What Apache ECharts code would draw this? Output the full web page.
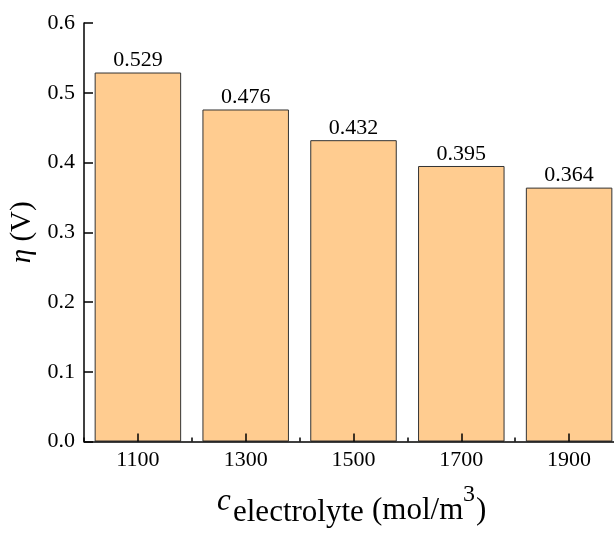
<!DOCTYPE html>
<html>
<head>
<meta charset="utf-8">
<script src="https://cdn.jsdelivr.net/npm/echarts@6/dist/echarts.min.js"></script>
<style>
  html, body { margin: 0; padding: 0; background: #fff; overflow: hidden; }
  #chart { width: 614px; height: 541px; }
</style>
</head>
<body>
<div id="chart"></div>
<script>
// Electrolyte concentration (mol/m^3) and overpotential (V)
const concentrations = ['1100', '1300', '1500', '1700', '1900'];
const overpotential = [0.529, 0.476, 0.432, 0.395, 0.364];
const yTicks = { min: 0, max: 0.6, interval: 0.1 };

const serif = '"Liberation Serif", "DejaVu Serif", serif';

const chart = echarts.init(document.getElementById('chart'), null, { renderer: 'canvas' });

// x-axis title pieces: italic c, subscript, unit, superscript
function titleText(text, x, y, size, italic) {
  return {
    type: 'text', x: x, y: y, z: 20,
    style: {
      text: text, fill: '#000', fontFamily: serif, fontSize: size,
      fontStyle: italic ? 'italic' : 'normal',
      align: 'left', verticalAlign: 'middle'
    }
  };
}

chart.setOption({
  animation: false,
  backgroundColor: '#fff',
  grid: {
    left: 84, top: 23, width: 539, height: 418.5,
    containLabel: false, outerBoundsMode: 'none'
  },
  xAxis: [
    {
      type: 'category',
      data: concentrations,
      position: 'bottom',
      z: 10,
      axisLine: { show: true, lineStyle: { color: '#000', width: 1.5 } },
      axisTick: { show: true, inside: true, alignWithLabel: true, length: 8, lineStyle: { color: '#000', width: 1.5 } },
      axisLabel: { color: '#000', fontFamily: serif, fontSize: 22, margin: 8 }
    },
    {
      // short ticks on the category boundaries
      type: 'category',
      data: concentrations,
      position: 'bottom',
      z: 10,
      axisLine: { show: false },
      axisTick: { show: true, inside: true, alignWithLabel: false, length: 4, lineStyle: { color: '#000', width: 1.5 } },
      axisLabel: { show: false },
      splitLine: { show: false }
    }
  ],
  yAxis: {
    type: 'value',
    min: yTicks.min,
    max: yTicks.max,
    interval: yTicks.interval,
    z: 10,
    axisLine: { show: true, lineStyle: { color: '#000', width: 1.5 } },
    axisTick: { show: true, inside: true, length: 9, lineStyle: { color: '#000', width: 1.5 } },
    splitLine: { show: false },
    axisLabel: {
      color: '#000', fontFamily: serif, fontSize: 22, margin: 9,
      formatter: v => v.toFixed(1)
    },
    name: '{e|η}{n| (V)}',
    nameLocation: 'middle',
    nameGap: 31,
    nameTextStyle: {
      color: '#000',
      fontFamily: serif,
      rich: {
        e: { fontFamily: serif, fontStyle: 'italic', fontSize: 29, color: '#000' },
        n: { fontFamily: serif, fontSize: 29, color: '#000' }
      }
    }
  },
  graphic: [
    titleText('c', 217, 502, 31, true),
    titleText('electrolyte', 233, 513, 31, false),
    titleText('(mol/m', 372, 511, 31, false),
    titleText('3', 463, 495, 24, false),
    titleText(')', 476, 511, 31, false)
  ],
  series: [{
    type: 'bar',
    xAxisIndex: 0,
    data: overpotential,
    barWidth: 86.5,
    itemStyle: { color: '#FFCC90', borderColor: '#333', borderWidth: 1 },
    label: {
      show: true, position: 'top', distance: 1,
      color: '#000', fontFamily: serif, fontSize: 22,
      formatter: p => p.value.toFixed(3)
    }
  }]
});
</script>
</body>
</html>
